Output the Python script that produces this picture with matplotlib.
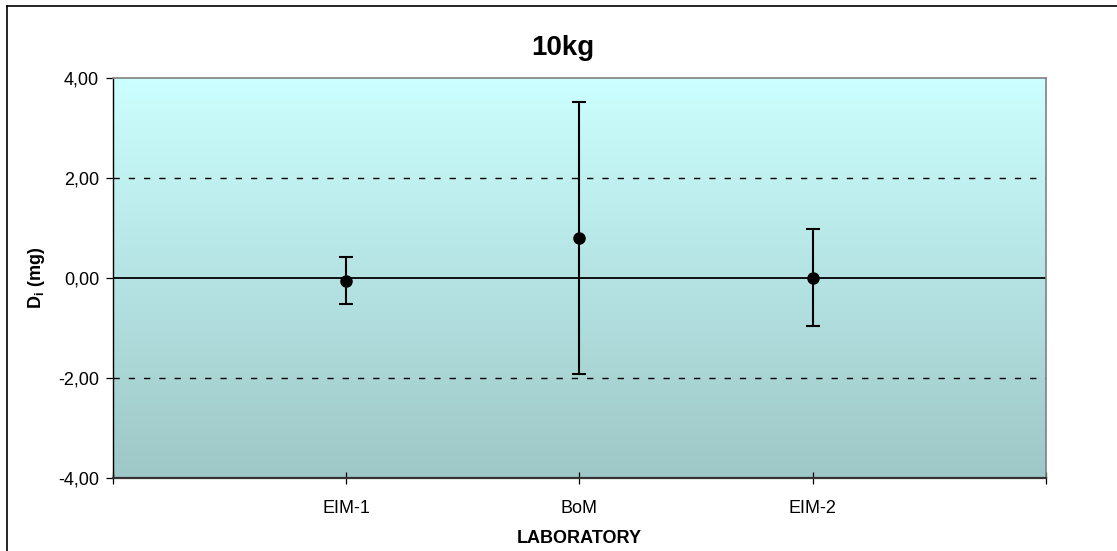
import numpy as np
import matplotlib.pyplot as plt
from matplotlib.lines import Line2D
from matplotlib.ticker import FuncFormatter

plt.rcParams['font.family'] = ['Liberation Sans', 'DejaVu Sans']

# --- 데이터 ---
labs = ['EIM-1', 'BoM', 'EIM-2']
di = [-0.06, 0.79, 0.0]          # D_i (mg)
ui = [0.47, 2.72, 0.97]          # 불확도 (mg)
x_pos = [1, 2, 3]
y_ticks = [-4, -2, 0, 2, 4]

fig = plt.figure(figsize=(11.17, 5.51), dpi=100)
ax = fig.add_axes([0.1012, 0.1325, 0.8352, 0.7268])

# 배경 그라데이션 (위: 연한 청록, 아래: 회청록)
top = np.array([0.80, 1.00, 1.00])
bot = np.array([0.62, 0.78, 0.78])
t = np.linspace(0, 1, 256)[:, None]
grad = (top * (1 - t) + bot * t)[:, None, :]
ax.imshow(grad, extent=[0, 4, -4, 4], aspect='auto', zorder=0)

ax.set_xlim(0, 4)
ax.set_ylim(-4, 4)

# 기준선
ax.axhline(0, color='black', lw=1.3, zorder=1)
for yv in (-2, 2):
    ax.axhline(yv, color='black', lw=1.0, linestyle=(0, (4.5, 6.5)), zorder=1)

ax.errorbar(x_pos, di, yerr=ui, fmt='o', color='black', ms=8,
            elinewidth=1.5, capsize=5, capthick=1.5, zorder=3)

# 축 꾸미기
ax.set_yticks(y_ticks)
ax.yaxis.set_major_formatter(FuncFormatter(lambda v, p: f'{v:.2f}'.replace('.', ',')))
ax.set_xticks([0, 1, 2, 3, 4])
ax.set_xticklabels([''] + labs + [''])
ax.tick_params(axis='both', labelsize=13, length=5, width=0.9, color='black')
ax.tick_params(axis='x', direction='inout', length=8, pad=12)
ax.tick_params(axis='y', direction='out', pad=5)

ax.spines['top'].set_color('#808080')
ax.spines['right'].set_color('#808080')
ax.spines['top'].set_linewidth(1.2)
ax.spines['right'].set_linewidth(1.2)
ax.spines['left'].set_color('black')
ax.spines['bottom'].set_color('#333333')
ax.spines['left'].set_linewidth(1.0)
ax.spines['bottom'].set_linewidth(1.6)

ax.set_ylabel('D$_\\mathregular{i}$ (mg)', fontsize=13, fontweight='bold', labelpad=8)
ax.set_xlabel('LABORATORY', fontsize=13, fontweight='bold', labelpad=9)
fig.text(563 / 1117, 1 - 48 / 551, '10kg', fontsize=20, fontweight='bold',
         ha='center', va='center')

# 차트 외곽 테두리
fx, fy = 7 / 1117, 1 - 6 / 551
fig.add_artist(Line2D([fx, fx], [0, fy], transform=fig.transFigure, color='black', lw=1.2))
fig.add_artist(Line2D([fx, 1], [fy, fy], transform=fig.transFigure, color='black', lw=1.2))

fig.savefig('out.png', dpi=100)
